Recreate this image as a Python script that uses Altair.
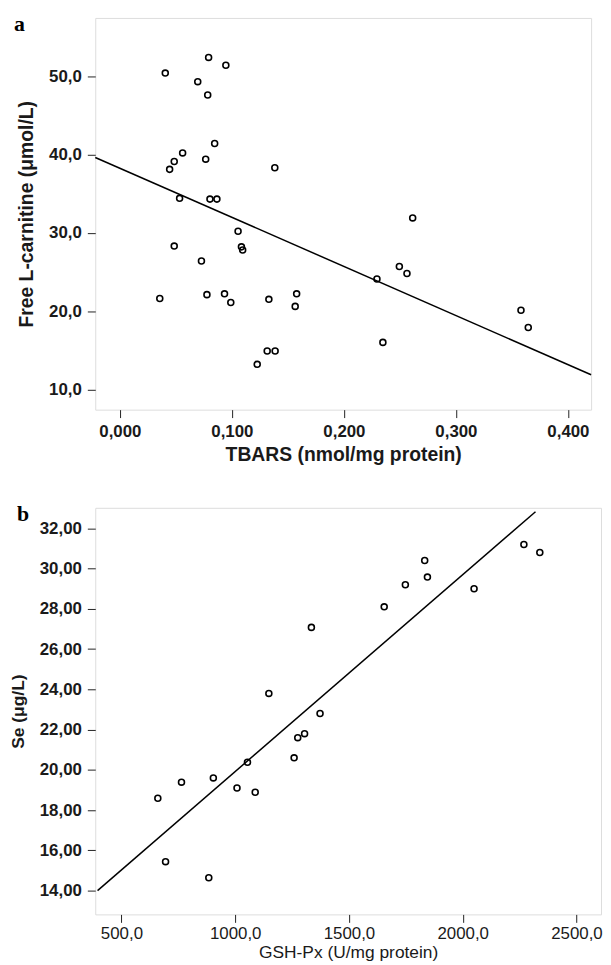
import altair as alt
import pandas as pd

# ---------------- data ----------------
panel_labels = ["a", "b"]

a_tbars = [0.0792, 0.0946, 0.0405, 0.0695, 0.0784, 0.0846, 0.0560, 0.0766, 0.0485,
           0.0444, 0.1383, 0.0533, 0.0804, 0.0866, 0.1055, 0.0485, 0.1085, 0.1096,
           0.0728, 0.0356, 0.0777, 0.0934, 0.0990, 0.1330, 0.1578, 0.1565, 0.1315,
           0.1386, 0.1226, 0.2614, 0.2495, 0.2563, 0.2295, 0.2348, 0.3581, 0.3646]
a_carn = [52.4, 51.4, 50.4, 49.3, 47.6, 41.4, 40.2, 39.4, 39.1,
          38.1, 38.3, 34.4, 34.3, 34.3, 30.2, 28.3, 28.2, 27.8,
          26.4, 21.6, 22.1, 22.2, 21.1, 21.5, 22.2, 20.6, 14.9,
          14.9, 13.2, 31.9, 25.7, 24.8, 24.1, 16.0, 20.1, 17.9]
a_fit_x = [-0.022, 0.4207]
a_fit_intercept = 38.24
a_fit_slope = -62.7
a_xticks = [0.0, 0.1, 0.2, 0.3, 0.4]
a_yticks = [10, 20, 30, 40, 50]

b_gsh = [1335, 1148, 1373, 1305, 1275, 1259, 1054, 904, 764, 660, 1008,
         1088, 694, 884, 2269, 2339, 1833, 1845, 1748, 1655, 2050]
b_se = [27.08, 23.8, 22.8, 21.8, 21.6, 20.6, 20.38, 19.6, 19.39, 18.59, 19.1,
        18.89, 15.44, 14.64, 31.2, 30.8, 30.4, 29.58, 29.2, 28.1, 29.0]
b_fit_x = [395, 2320]
b_fit_intercept = 10.14
b_fit_slope = 0.009777
b_xticks = [500, 1000, 1500, 2000, 2500]
b_yticks = [14, 16, 18, 20, 22, 24, 26, 28, 30, 32]

FONT = "Liberation Sans"


def lab(fmt):
    return f"replace(format(datum.value, '{fmt}'), '.', ',')"


def panel(label, xs, ys, fit_x, b0, b1, xdom, ydom, xticks, yticks,
          xfmt, yfmt, xtitle, ytitle, w, h, xbold, xtsize, ytsize,
          lab_dx, lab_dy, xlpad, xtpad):
    pts = pd.DataFrame({"x": xs, "y": ys})
    fit = pd.DataFrame({"x": fit_x})
    xw = "bold" if xbold else "normal"
    xenc = alt.X("x:Q",
                 scale=alt.Scale(domain=xdom, nice=False, zero=False),
                 axis=alt.Axis(values=xticks, labelExpr=lab(xfmt), title=xtitle,
                               labelFont=FONT, labelFontSize=17, labelFontWeight=xw,
                               labelColor="#1a1a1a", titleFont=FONT,
                               titleFontSize=xtsize, titleFontWeight=xw,
                               titleColor="#1a1a1a", tickSize=8, tickColor="#222",
                               labelPadding=xlpad, titlePadding=xtpad, domain=False,
                               grid=False, labelFlush=False))
    yenc = alt.Y("y:Q",
                 scale=alt.Scale(domain=ydom, nice=False, zero=False),
                 axis=alt.Axis(values=yticks, labelExpr=lab(yfmt), title=ytitle,
                               labelFont=FONT, labelFontSize=17, labelFontWeight="bold",
                               labelColor="#1a1a1a", titleFont=FONT,
                               titleFontSize=ytsize, titleFontWeight="bold",
                               titleColor="#1a1a1a", tickSize=8, tickColor="#222",
                               labelPadding=6, titlePadding=12, domain=False,
                               grid=False, labelFlush=False))
    points = alt.Chart(pts).mark_point(shape="circle", filled=False, size=36,
                                       color="black", strokeWidth=1.6,
                                       opacity=1).encode(x=xenc, y=yenc)
    line = alt.Chart(fit).transform_calculate(
        y=f"{b0} + {b1} * datum.x"
    ).mark_line(color="black", strokeWidth=1.5).encode(x="x:Q", y="y:Q")
    tag = alt.Chart(pd.DataFrame({"t": [label]})).mark_text(
        font="Liberation Serif", fontSize=22, fontWeight="bold", align="left",
        baseline="top", color="black"
    ).encode(text="t:N", x=alt.value(lab_dx), y=alt.value(lab_dy))
    return alt.layer(points, line, tag).properties(width=w, height=h)


pa = panel(panel_labels[0], a_tbars, a_carn, a_fit_x, a_fit_intercept, a_fit_slope,
           [-0.022, 0.4207], [7.41, 57.44], a_xticks, a_yticks, ".3f", ".1f",
           "TBARS (nmol/mg protein)", "Free L-carnitine (μmol/L)", 500, 395, True,
           19.5, 19.5, -82, -4, 6, 6)
pb = panel(panel_labels[1], b_gsh, b_se, b_fit_x, b_fit_intercept, b_fit_slope,
           [385, 2608], [12.82, 33.02], b_xticks, b_yticks, ".1f", ".2f",
           "GSH-Px (U/mg protein)", "Se (μg/L)", 510, 410, False,
           17.5, 17.5, -79, -4, 3, 2)

chart = alt.vconcat(pa, pb, spacing=38).properties(
    padding={"left": 0, "top": 0, "right": 0, "bottom": 0}
).configure_view(
    fill="#f4f5f4", stroke="#3a3a3a", strokeWidth=1.5
).configure(background="white")

chart.save("out.html", embed_options={"renderer": "svg", "actions": False})
